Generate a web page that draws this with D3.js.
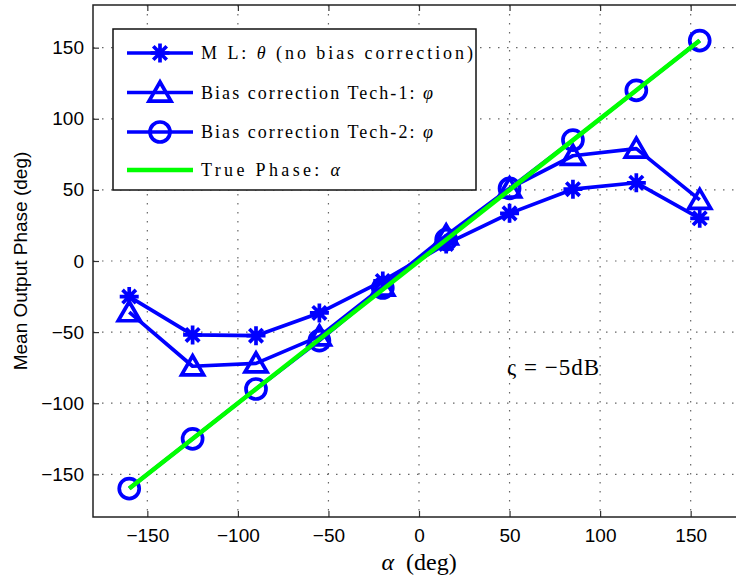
<!DOCTYPE html>
<html>
<head>
<meta charset="utf-8">
<script src="https://cdn.jsdelivr.net/npm/d3@7"></script>
<style>
  body { margin: 0; background: #fff; }
  svg { display: block; }
</style>
</head>
<body>
<script>
// data
const alpha   = [-160, -125, -90, -55, -20, 15, 50, 85, 120, 155];
const mlTheta = [-25, -52, -52.5, -36.5, -14, 12, 33.5, 50.5, 55, 30];
const tech1   = [-36, -74, -72, -53, -18, 18, 51, 74, 79, 43];
const tech2   = [-160, -125, -90, -56, -19, 15, 51, 85, 120, 155];
const truePh  = [-160, -125, -90, -55, -20, 15, 50, 85, 120, 155];
const xTicks  = [-150, -100, -50, 0, 50, 100, 150];
const yTicks  = [-150, -100, -50, 0, 50, 100, 150];

const width = 736, height = 583;
const pLeft = 93, pRight = 745, pTop = 5, pBottom = 517;

const svg = d3.select("body").append("svg")
    .attr("width", width)
    .attr("height", height);

const x = d3.scaleLinear().domain([-180, 180]).range([pLeft, pRight]);
const y = d3.scaleLinear().domain([-180, 180]).range([pBottom, pTop]);

// grid
svg.append("g")
    .selectAll("line").data(xTicks).join("line")
    .attr("x1", d => x(d)).attr("x2", d => x(d))
    .attr("y1", pTop).attr("y2", pBottom)
    .attr("stroke", "#666").attr("stroke-width", 1.2)
    .attr("stroke-dasharray", "1.5,7.5");
svg.append("g")
    .selectAll("line").data(yTicks).join("line")
    .attr("x1", pLeft).attr("x2", pRight)
    .attr("y1", d => y(d)).attr("y2", d => y(d))
    .attr("stroke", "#666").attr("stroke-width", 1.2)
    .attr("stroke-dasharray", "1.5,7.5");

// axes
const fontSans = "'Liberation Sans', Arial, sans-serif";
const fmt = d => d < 0 ? "\u2212" + Math.abs(d) : d;
svg.append("g")
    .attr("transform", "translate(0," + pBottom + ")")
    .call(d3.axisBottom(x).tickValues(xTicks).tickSizeInner(-6).tickSizeOuter(0).tickPadding(12).tickFormat(fmt));
svg.append("g")
    .attr("transform", "translate(0," + pTop + ")")
    .call(d3.axisTop(x).tickValues(xTicks).tickSizeInner(-6).tickSizeOuter(0).tickFormat(""));
svg.append("g")
    .attr("transform", "translate(" + pLeft + ",0)")
    .call(d3.axisLeft(y).tickValues(yTicks).tickSizeInner(-6).tickSizeOuter(0).tickPadding(9).tickFormat(fmt));

svg.selectAll(".domain").remove();
svg.selectAll(".tick line").attr("stroke", "#333").attr("stroke-width", 1.2);
svg.selectAll(".tick text").attr("font-family", fontSans).attr("font-size", 19).attr("fill", "#000");

// box
svg.append("rect")
    .attr("x", pLeft).attr("y", pTop)
    .attr("width", pRight - pLeft).attr("height", pBottom - pTop)
    .attr("fill", "none").attr("stroke", "#222").attr("stroke-width", 1.5);

// axis labels
svg.append("text")
    .attr("transform", "translate(27," + ((pTop + pBottom) / 2) + ") rotate(-90)")
    .attr("text-anchor", "middle")
    .attr("font-family", fontSans).attr("font-size", 19)
    .text("Mean Output Phase (deg)");

const fontSerif = "'Liberation Serif', 'Times New Roman', serif";
const xl = svg.append("text")
    .attr("x", 419).attr("y", 570)
    .attr("text-anchor", "middle")
    .attr("font-family", fontSerif).attr("font-size", 24);
xl.append("tspan").attr("font-style", "italic").text("\u03b1");
xl.append("tspan").text("\u2002(deg)");

svg.append("text")
    .attr("x", 507).attr("y", 375)
    .attr("font-family", fontSerif).attr("font-size", 23)
    .attr("textLength", 92).attr("lengthAdjust", "spacing")
    .text("\u03c2 = \u22125dB");

// markers
const blue = "#0000ff", green = "#00ff00";
function star(r) {
  const a = r * 0.7071;
  return `M${-r},0L${r},0M0,${-r}L0,${r}M${-a},${-a}L${a},${a}M${-a},${a}L${a},${-a}`;
}
function tri(w, h) {
  return `M0,${-h * 0.55}L${w / 2},${h * 0.45}L${-w / 2},${h * 0.45}Z`;
}
function circ(r) {
  return `M${r},0A${r},${r} 0 1,1 ${-r},0A${r},${r} 0 1,1 ${r},0Z`;
}

const series = [
  { name: "ml", values: mlTheta, marker: star(9.5) },
  { name: "t1", values: tech1, marker: tri(22, 19) },
  { name: "t2", values: tech2, marker: circ(10) }
];

const line = d3.line().x(d => x(d[0])).y(d => y(d[1]));

series.forEach(s => {
  const pts = alpha.map((a, i) => [a, s.values[i]]);
  svg.append("path")
      .attr("d", line(pts))
      .attr("fill", "none").attr("stroke", blue).attr("stroke-width", 3.7)
      .attr("stroke-linejoin", "round");
  svg.append("g").selectAll("path").data(pts).join("path")
      .attr("transform", d => `translate(${x(d[0])},${y(d[1])})`)
      .attr("d", s.marker)
      .attr("fill", "none").attr("stroke", blue).attr("stroke-width", 3.7);
});

svg.append("path")
    .attr("d", line(alpha.map((a, i) => [a, truePh[i]])))
    .attr("fill", "none").attr("stroke", green).attr("stroke-width", 4.5);

// legend
const legend = svg.append("g");
legend.append("rect")
    .attr("x", 113).attr("y", 29).attr("width", 363).attr("height", 161)
    .attr("fill", "#fff").attr("stroke", "#111").attr("stroke-width", 1.5);

const legendRows = [
  { marker: star(9.5), color: blue, w: 3.7, parts: [["M L: ", false], ["\u03b8", true], [" (no bias correction)", false]], len: 272 },
  { marker: tri(22, 19), color: blue, w: 3.7, parts: [["Bias correction Tech-1: ", false], ["\u03c6", true]], len: 232 },
  { marker: circ(10), color: blue, w: 3.7, parts: [["Bias correction Tech-2: ", false], ["\u03c6", true]], len: 232 },
  { marker: null, color: green, w: 4.5, parts: [["True Phase: ", false], ["\u03b1", true]], len: 139 }
];
const rowY = [53, 92.5, 132, 170];

legendRows.forEach((r, i) => {
  const yy = rowY[i];
  legend.append("line")
      .attr("x1", 127).attr("x2", 193).attr("y1", yy).attr("y2", yy)
      .attr("stroke", r.color).attr("stroke-width", r.w);
  if (r.marker) {
    legend.append("path")
        .attr("transform", `translate(160,${yy})`)
        .attr("d", r.marker)
        .attr("fill", "none").attr("stroke", r.color).attr("stroke-width", 3.7);
  }
  const t = legend.append("text")
      .attr("x", 201).attr("y", yy + 6)
      .attr("font-family", fontSerif).attr("font-size", 18)
      .attr("textLength", r.len).attr("lengthAdjust", "spacing");
  r.parts.forEach(p => {
    t.append("tspan").attr("font-style", p[1] ? "italic" : "normal").text(p[0]);
  });
});
</script>
</body>
</html>
